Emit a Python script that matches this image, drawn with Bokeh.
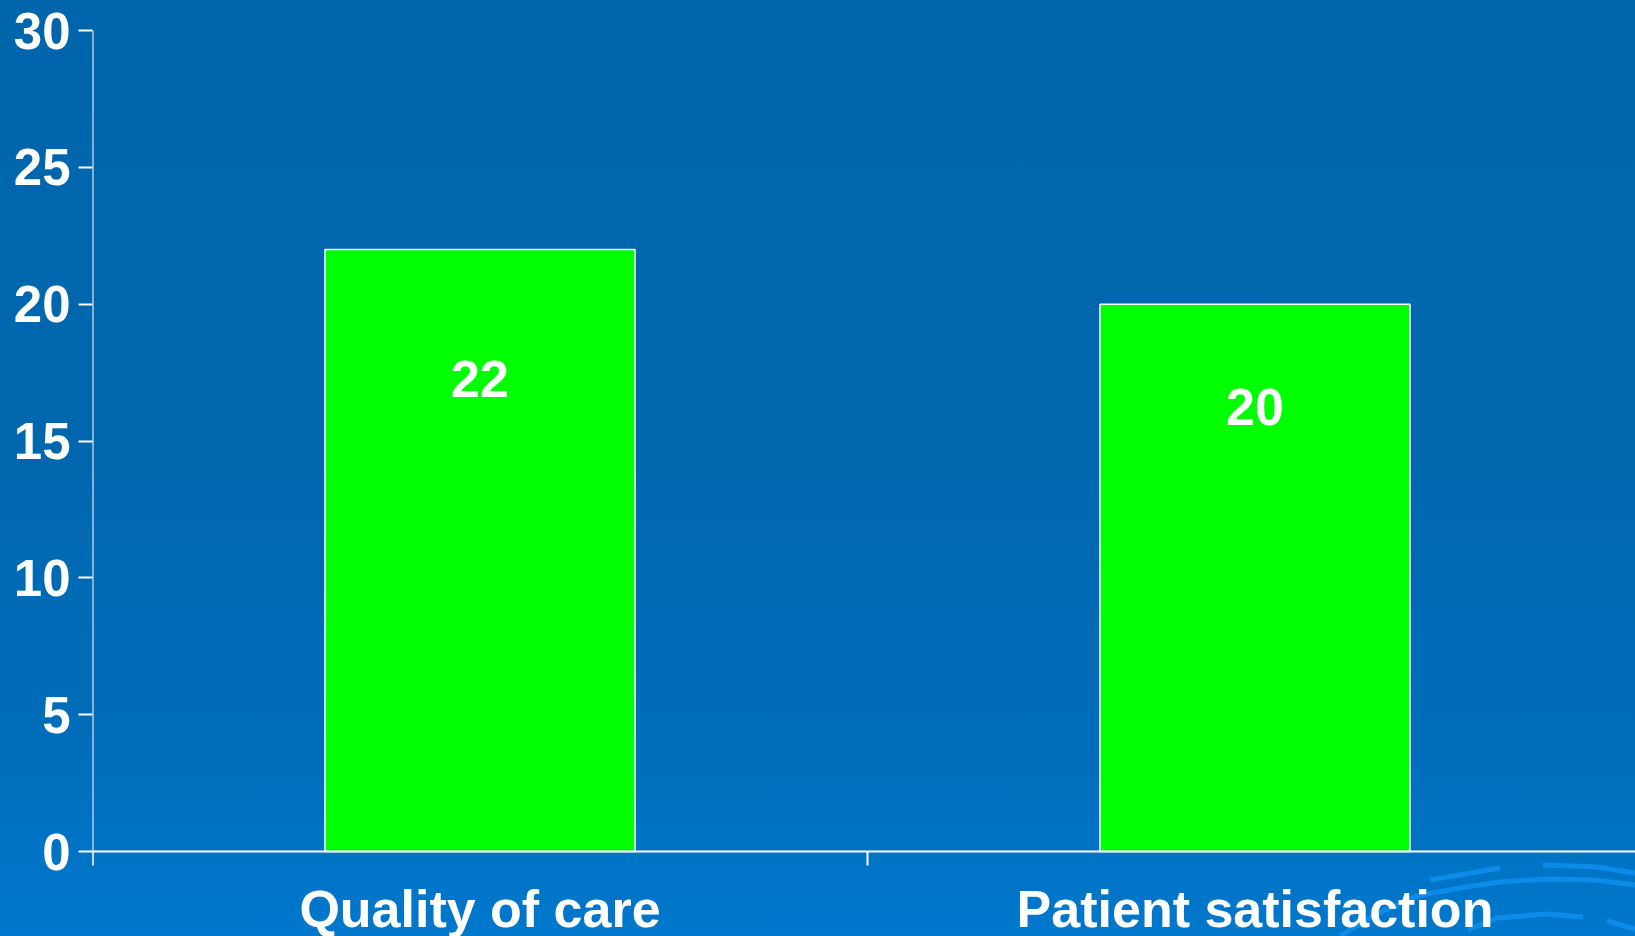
from urllib.parse import quote

from bokeh.core.properties import value
from bokeh.embed import file_html
from bokeh.models import ColumnDataSource, FixedTicker, Range1d
from bokeh.plotting import figure
from bokeh.resources import INLINE

# ---- data -------------------------------------------------------------
categories = ["Quality of care", "Patient satisfaction"]
scores = [22, 20]
y_ticks = [0, 5, 10, 15, 20, 25, 30]

# ---- layout / style -----------------------------------------------------
W, H = 1635, 936
LEFT, TOP = 92, 30
AXIS_PX = 821            # pixel height from 0 to the top of the value axis
BAND_PX = 775            # pixel width of one category band
TICK_PX = 14             # outward tick length
CAT_BASELINE_PX = 57     # category name anchor below the x axis
FONT = "Liberation Sans"
WHITE = "#FFFFFF"
label_drop = [4.75, 3.75]  # how far each value label sits below its bar top

y_max = y_ticks[-1]
px = y_max / AXIS_PX     # data units per pixel, vertically
y_low = -(H - TOP - AXIS_PX) * px

centers = [i + 0.5 for i in range(len(categories))]
bounds = [float(i) for i in range(len(categories) + 1)]
x_end = (W - LEFT) / BAND_PX   # last band runs slightly past the right edge

source = ColumnDataSource(data=dict(
    x=centers,
    top=scores,
    label=[str(v) for v in scores],
    label_y=[v - d for v, d in zip(scores, label_drop)],
))
cat_source = ColumnDataSource(data=dict(
    x=centers,
    y=[-CAT_BASELINE_PX * px] * len(categories),
    name=categories,
))

p = figure(
    width=W, height=H,
    output_backend="svg", toolbar_location=None,
    x_range=Range1d(0, x_end), y_range=Range1d(y_low, y_max),
    x_axis_location=None,
    min_border_left=LEFT, min_border_top=TOP,
    min_border_bottom=0, min_border_right=0,
)

# slide-style background: blue gradient with faint globe arcs bottom right
arcs = [
    "1430,880 1500,868",
    "1543,865 1597,867 1635,873",
    "1340,936 1375,915 1417,896 1460,888 1500,882 1547,879 1595,880 1635,885",
    "1468,930 1497,918 1547,914 1583,917",
    "1607,921 1635,929",
]
svg = (
    f"<svg xmlns='http://www.w3.org/2000/svg' width='{W}' height='{H}' "
    f"viewBox='0 0 {W} {H}'>"
    + "".join(
        f"<polyline points='{a}' fill='none' stroke='#0C8CE8' "
        f"stroke-width='5' stroke-linecap='butt'/>" for a in arcs
    )
    + "</svg>"
)
p.styles = {
    "background-image": (
        f'url("data:image/svg+xml;charset=utf-8,{quote(svg)}"), '
        "linear-gradient(to bottom, #0065AB 0%, #0067AF 50%, #006EBC 82%, #0078CD 100%)"
    ),
    "background-size": "100% 100%",
}
p.background_fill_color = None
p.border_fill_color = None
p.outline_line_color = None
p.grid.visible = False

# bars
p.vbar(x="x", top="top", bottom=0, width=0.4, source=source,
       fill_color="#00FF00", line_color=WHITE, line_width=1.5)

# value labels inside bars
p.text(x="x", y="label_y", text="label", source=source,
       text_font=value(FONT), text_font_style="bold", text_font_size="52px",
       text_color=WHITE, text_align="center", text_baseline="middle")

# category axis: baseline, band-boundary ticks and the vertical axis line
p.segment(x0=0, y0=0, x1=x_end, y1=0, line_color=WHITE, line_width=2)
p.segment(x0=bounds, y0=[0] * len(bounds), x1=bounds,
          y1=[-TICK_PX * px] * len(bounds), line_color=WHITE, line_width=2)
p.segment(x0=0, y0=-TICK_PX * px, x1=0, y1=y_max, line_color=WHITE, line_width=2)

# category names centred under each band
p.text(x="x", y="y", text="name", source=cat_source,
       text_font=value(FONT), text_font_style="bold", text_font_size="52px",
       text_color=WHITE, text_align="center", text_baseline="alphabetic")

# value axis: ticks and labels only (its line is drawn above, from 0 up)
ya = p.yaxis[0]
ya.ticker = FixedTicker(ticks=y_ticks)
ya.axis_line_color = None
ya.major_tick_line_color = WHITE
ya.major_tick_line_width = 2
ya.major_tick_out = TICK_PX
ya.major_tick_in = 0
ya.minor_tick_line_color = None
ya.major_label_text_font = FONT
ya.major_label_text_font_style = "bold"
ya.major_label_text_font_size = "51px"
ya.major_label_text_color = WHITE
ya.major_label_standoff = 8

open("out.html", "w").write(file_html(p, INLINE))
